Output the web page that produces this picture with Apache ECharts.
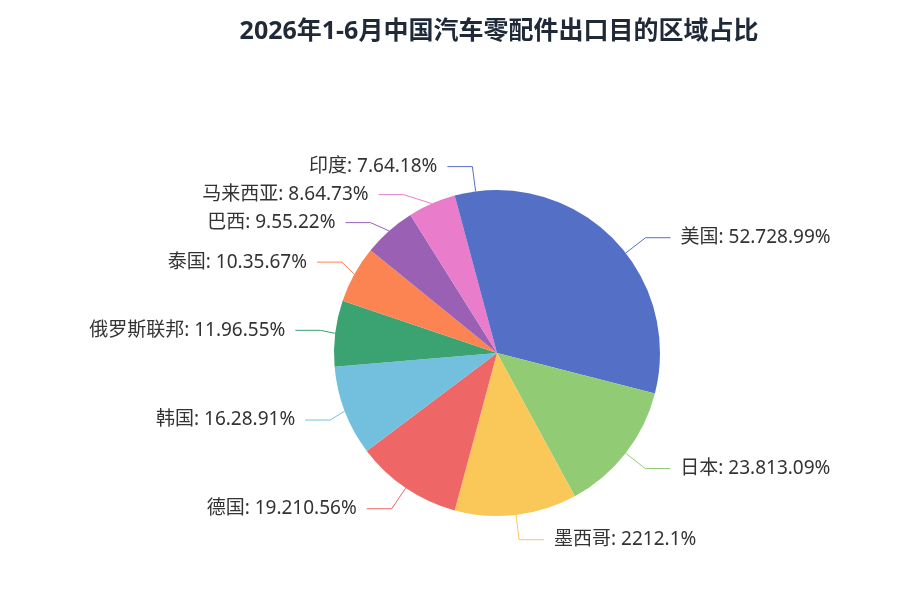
<!DOCTYPE html>
<html><head><meta charset="utf-8">
<script src="https://cdn.jsdelivr.net/npm/echarts@6/dist/echarts.min.js"></script>
<style>html,body{margin:0;padding:0;background:#fff}#c{width:909px;height:609px}</style>
</head><body><div id="c"></div>
<script>
const titleText = '2026年1-6月中国汽车零配件出口目的区域占比';
const categories = ['美国','日本','墨西哥','德国','韩国','俄罗斯联邦','泰国','巴西','马来西亚','印度'];
const values = [52.7,23.8,22,19.2,16.2,11.9,10.3,9.5,8.6,7.6];
const palette = ['#5470c6','#91cc75','#fac858','#ee6666','#73c0de','#3ba272','#fc8452','#9a60b4','#ea7ccc'];
const FONT = '"Noto Sans","Noto Sans CJK SC",sans-serif';

const chart = echarts.init(document.getElementById('c'));
chart.setOption({
  animation:false,
  color:palette,
  title:{text:titleText,left:494,top:14,textAlign:'center',
    textStyle:{fontSize:25,fontWeight:'bold',color:'#1f2937',fontFamily:FONT}},
  series:[{
    type:'pie',
    center:[497,353],
    radius:163,
    data:categories.map((n,i)=>({name:n,value:values[i]})),
    label:{formatter:'{b}: {c}{d}%',fontSize:19,lineHeight:26,color:'#333',fontFamily:FONT,distanceToLabelLine:10},
    labelLine:{length:25,length2:25}
  }]
});
</script></body></html>
